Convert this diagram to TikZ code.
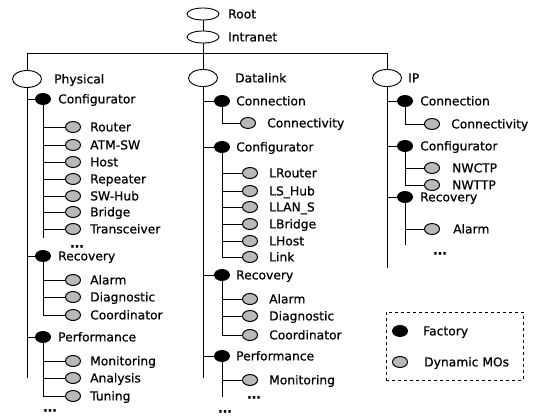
\documentclass[tikz,border=0pt]{standalone}
\usepackage{fontspec}
\setmainfont{DejaVu Sans}[FakeBold=0.6]
\usetikzlibrary{shapes.geometric}
\tikzset{
  cls/.style={ellipse,draw,line width=0.9pt,minimum width=29pt,minimum height=17pt,inner sep=0pt},
  topcls/.style={ellipse,draw,line width=0.9pt,minimum width=32pt,minimum height=12pt,inner sep=0pt},
  fac/.style={ellipse,fill=black,minimum width=16pt,minimum height=12pt,inner sep=0pt},
  dyn/.style={ellipse,draw,line width=1pt,fill=gray!55,minimum width=15pt,minimum height=11pt,inner sep=0pt},
  lbl/.style={anchor=base west,inner sep=0pt,font=\fontsize{12.3}{14}\selectfont},
  more/.style={anchor=base,inner sep=0pt,font=\fontsize{12}{14}\selectfont\bfseries},
  conn/.style={line width=0.9pt},
}
\begin{document}
\begin{tikzpicture}[x=1pt,y=-1pt]
\useasboundingbox (0,0) rectangle (537,415);
% top
\node[topcls] (root) at (203,14) {};
\node[lbl] (rootl) at (228,18.4) {Root};
\node[topcls] (intra) at (203,37) {};
\node[lbl] (intral) at (228,41.4) {Intranet};
\coordinate (bar) at (203,53);
% columns
\node[cls] (P) at (27,79) {};
\node[lbl] (Pl) at (54,83.4) {Physical};
\node[cls] (D) at (203,78) {};
\node[lbl] (Dl) at (235,82.4) {Datalink};
\node[cls] (I) at (387,78) {};
\node[lbl] (Il) at (408,82.4) {IP};
\draw[conn] (root) -- (intra);
\draw[conn] (intra) -- (D);
\draw[conn] (P.north) -- (P.north |- bar) -- (I.north |- bar) -- (I.north);
% ---------- Physical ----------
\node[fac] (Pcfg) at (43,99) {};
\node[lbl] (Pcfgl) at (58,103.4) {Configurator};
\foreach \n/\y/\t in {a/127/Router,b/145/ATM-SW,c/162/Host,d/179/Repeater,e/196/SW-Hub,f/212/Bridge,g/229/Transceiver}{
  \node[dyn] (Pc\n) at (73,\y) {};
  \node[lbl] (Pc\n l) at (90,\y+4.4) {\t};
  \draw[conn] (Pcfg.south) |- (Pc\n.west);
}
\coordinate (Pcend) at (43,238);
\draw[conn] (Pcfg.south) -- (Pcend);
\node[more] (Pcmore) at (77,247.5) {...};
\node[fac] (Prec) at (43,256) {};
\node[lbl] (Precl) at (58,260.4) {Recovery};
\foreach \n/\y/\t in {a/280/Alarm,b/297/Diagnostic,c/315/Coordinator}{
  \node[dyn] (Pr\n) at (73,\y) {};
  \node[lbl] (Pr\n l) at (90,\y+4.4) {\t};
  \draw[conn] (Prec.south) |- (Pr\n.west);
}
\node[fac] (Pperf) at (43,337) {};
\node[lbl] (Pperfl) at (58,341.4) {Performance};
\foreach \n/\y/\t in {a/361/Monitoring,b/378/Analysis,c/396/Tuning}{
  \node[dyn] (Pp\n) at (73,\y) {};
  \node[lbl] (Pp\n l) at (90,\y+4.4) {\t};
  \draw[conn] (Pperf.south) |- (Pp\n.west);
}
\node[more] (Pmore) at (50,411.5) {...};
\coordinate (Pend) at (27,378);
\draw[conn] (P.south) -- (Pend);
\foreach \f in {Pcfg,Prec,Pperf}{\draw[conn] (P.south) |- (\f.west);}
% ---------- Datalink ----------
\node[fac] (Dcon) at (222,101) {};
\node[lbl] (Dconl) at (236,105.4) {Connection};
\node[dyn] (Dcona) at (248,123) {};
\node[lbl] (Dconal) at (267,127.4) {Connectivity};
\draw[conn] (Dcon.south) |- (Dcona.west);
\node[fac] (Dcfg) at (222,147) {};
\node[lbl] (Dcfgl) at (236,151.4) {Configurator};
\foreach \n/\y/\t in {a/173/LRouter,b/191/LS\_Hub,c/207/LLAN\_S,d/224/LBridge,e/241/LHost,f/257/Link}{
  \node[dyn] (Dc\n) at (250,\y) {};
  \node[lbl] (Dc\n l) at (269,\y+4.4) {\t};
  \draw[conn] (Dcfg.south) |- (Dc\n.west);
}
\node[fac] (Drec) at (222,275) {};
\node[lbl] (Drecl) at (236,279.4) {Recovery};
\foreach \n/\y/\t in {a/299/Alarm,b/316/Diagnostic,c/335/Coordinator}{
  \node[dyn] (Dr\n) at (250,\y) {};
  \node[lbl] (Dr\n l) at (269,\y+4.4) {\t};
  \draw[conn] (Drec.south) |- (Dr\n.west);
}
\node[fac] (Dperf) at (222,356) {};
\node[lbl] (Dperfl) at (236,360.4) {Performance};
\node[dyn] (Dpa) at (250,380) {};
\node[lbl] (Dpal) at (269,384.4) {Monitoring};
\draw[conn] (Dperf.south) |- (Dpa.west);
\coordinate (Dpend) at (222,397);
\draw[conn] (Dperf.south) -- (Dpend);
\node[more] (Dpmore) at (254,398.5) {...};
\node[more] (Dmore) at (225,412.5) {...};
\coordinate (Dend) at (203,378);
\draw[conn] (D.south) -- (Dend);
\foreach \f in {Dcon,Dcfg,Drec,Dperf}{\draw[conn] (D.south) |- (\f.west);}
% ---------- IP ----------
\node[fac] (Icon) at (405,101) {};
\node[lbl] (Iconl) at (420,105.4) {Connection};
\node[dyn] (Icona) at (432,124) {};
\node[lbl] (Iconal) at (451,128.4) {Connectivity};
\draw[conn] (Icon.south) |- (Icona.west);
\node[fac] (Icfg) at (405,146) {};
\node[lbl] (Icfgl) at (420,150.4) {Configurator};
\foreach \n/\y/\t in {a/168/NWCTP,b/185/NWTTP}{
  \node[dyn] (Ic\n) at (432,\y) {};
  \node[lbl] (Ic\n l) at (452,\y+4.4) {\t};
  \draw[conn] (Icfg.south) |- (Ic\n.west);
}
\node[fac] (Irec) at (405,197) {};
\node[lbl] (Irecl) at (420,201.4) {Recovery};
\node[dyn] (Ira) at (432,229) {};
\node[lbl] (Iral) at (453,233.4) {Alarm};
\draw[conn] (Irec.south) |- (Ira.west);
\coordinate (Irend) at (405,245);
\draw[conn] (Irec.south) -- (Irend);
\node[more] (Irmore) at (440,254.5) {...};
\coordinate (Iend) at (387,268);
\draw[conn] (I.south) -- (Iend);
\foreach \f in {Icon,Icfg,Irec}{\draw[conn] (I.south) |- (\f.west);}
% ---------- Legend ----------
\node[draw,dashed,line width=0.8pt,minimum width=137pt,minimum height=68pt,inner sep=0pt] (legend) at (454.5,346) {};
\node[fac] (lf) at (400,331) {};
\node[lbl] (lfl) at (423,335.4) {Factory};
\node[dyn] (ld) at (400,362) {};
\node[lbl] (ldl) at (424,366.4) {Dynamic MOs};
\end{tikzpicture}
\end{document}
